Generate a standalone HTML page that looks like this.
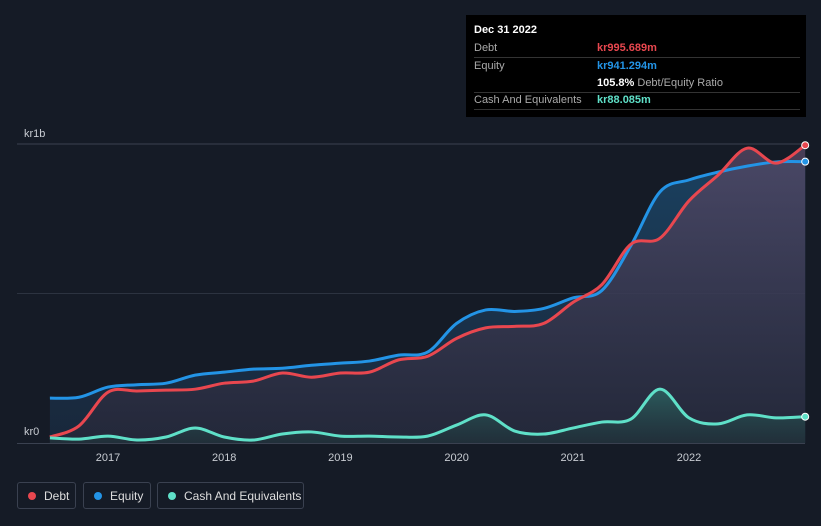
<!DOCTYPE html>
<html><head><meta charset="utf-8"><style>
html,body{margin:0;padding:0;background:#151b26;width:821px;height:526px;overflow:hidden;font-family:"Liberation Sans",sans-serif}
#wrap{position:relative;width:821px;height:526px}
svg{position:absolute;left:0;top:0}
.tt{position:absolute;left:466px;top:15px;width:340px;height:102px;background:#000;color:#fff;font-size:11px}
.row{position:absolute;left:8px;right:6px;height:17px;border-bottom:1px solid #333;line-height:17px}
.row span.l{color:#aaa;position:absolute;left:0}
.row span.v{position:absolute;left:123px;font-weight:bold}
.leg{position:absolute;top:482px;height:27px;border:1px solid #3a4150;border-radius:3px;color:#ddd;font-size:12px;line-height:27px;box-sizing:border-box}
.dot{display:inline-block;width:8px;height:8px;border-radius:4px;margin:0 8px 0 10px}
</style></head><body><div id="wrap">
<svg id="c" width="821" height="526"></svg>
<div class="tt">
<div style="position:absolute;left:8px;top:9px;font-weight:bold;font-size:11px">Dec 31 2022</div>
<div class="row" style="top:25px"><span class="l">Debt</span><span class="v" style="color:#e8474f">kr995.689m</span></div>
<div class="row" style="top:43px;border:none"><span class="l">Equity</span><span class="v" style="color:#2394e6">kr941.294m</span></div>
<div class="row" style="top:60px"><span class="v" style="color:#fff">105.8% <span style="color:#aaa;font-weight:normal">Debt/Equity Ratio</span></span></div>
<div class="row" style="top:77px"><span class="l">Cash And Equivalents</span><span class="v" style="color:#5fe0c8">kr88.085m</span></div>
</div>
<div class="leg" style="left:17px;width:59px"><span class="dot" style="background:#e8474f"></span>Debt</div>
<div class="leg" style="left:83px;width:68px"><span class="dot" style="background:#2394e6"></span>Equity</div>
<div class="leg" style="left:157px;width:147px"><span class="dot" style="background:#5fe0c8"></span>Cash And Equivalents</div>
</div>
<script>
const times=[2016.5,2016.75,2017,2017.25,2017.5,2017.75,2018,2018.25,2018.5,2018.75,2019,2019.25,2019.5,2019.75,2020,2020.25,2020.5,2020.75,2021,2021.25,2021.5,2021.75,2022,2022.25,2022.5,2022.75,2023];
const equity=[0.15,0.153,0.187,0.195,0.2,0.227,0.237,0.247,0.25,0.26,0.267,0.274,0.294,0.304,0.4,0.445,0.44,0.45,0.485,0.51,0.66,0.84,0.88,0.906,0.926,0.94,0.941];
const debt=[0.02,0.057,0.17,0.174,0.177,0.18,0.2,0.207,0.234,0.22,0.234,0.237,0.278,0.29,0.35,0.385,0.39,0.4,0.47,0.53,0.665,0.685,0.81,0.896,0.986,0.936,0.996];
const cash=[0.017,0.013,0.023,0.01,0.02,0.05,0.02,0.01,0.03,0.037,0.023,0.023,0.02,0.023,0.06,0.094,0.04,0.03,0.05,0.07,0.08,0.18,0.084,0.064,0.094,0.084,0.088];
const yearTicks=[2017,2018,2019,2020,2021,2022];
const yTicks=[{v:0,l:"kr0"},{v:1,l:"kr1b"}];
const NS="http://www.w3.org/2000/svg",svg=document.getElementById('c');
const X=t=>108+(t-2017)*116.2, Y=v=>443-v*299;
function mk(tag,attrs,name){const e=document.createElementNS(NS,tag);for(const k in attrs)e.setAttribute(k,attrs[k]);


svg.appendChild(e);return e;}
const defs=document.createElementNS(NS,'defs');defs.innerHTML=
'<linearGradient id="ge" x1="0" y1="0" x2="0" y2="1"><stop offset="0" stop-color="#1c4a6e" stop-opacity="0.8"/><stop offset="1" stop-color="#1c3450" stop-opacity="0.5"/></linearGradient>'+
'<linearGradient id="gd" x1="0" y1="0" x2="0" y2="1"><stop offset="0" stop-color="#5a4a68" stop-opacity="0.75"/><stop offset="1" stop-color="#2a2838" stop-opacity="0.6"/></linearGradient>'+
'<linearGradient id="gc" x1="0" y1="0" x2="0" y2="1"><stop offset="0" stop-color="#2e7a70" stop-opacity="0.6"/><stop offset="1" stop-color="#1d3a3a" stop-opacity="0.4"/></linearGradient>';
svg.appendChild(defs);
function path(vals){const p=vals.map((v,i)=>[X(times[i]),Y(v)]);let d='M'+p[0][0]+','+p[0][1];
for(let i=0;i<p.length-1;i++){const p0=p[Math.max(0,i-1)],p1=p[i],p2=p[i+1],p3=p[Math.min(p.length-1,i+2)];
d+=' C'+(p1[0]+(p2[0]-p0[0])/6)+','+(p1[1]+(p2[1]-p0[1])/6)+' '+(p2[0]-(p3[0]-p1[0])/6)+','+(p2[1]-(p3[1]-p1[1])/6)+' '+p2[0]+','+p2[1];}return d;}
mk('line',{x1:17,x2:805,y1:Y(1),y2:Y(1),stroke:'#3a4150'},'gridline-top');
mk('line',{x1:17,x2:805,y1:Y(0.5),y2:Y(0.5),stroke:'#2c3340'},'gridline-mid');
mk('line',{x1:17,x2:805,y1:Y(0)+0.5,y2:Y(0)+0.5,stroke:'#3a4150'},'gridline-zero');
const x0=X(times[0]),x1=X(times[times.length-1]),yb=Y(0);
mk('path',{d:path(equity)+' L'+x1+','+yb+' L'+x0+','+yb+'Z',fill:'url(#ge)'},'equity-area');
mk('path',{d:path(debt)+' L'+x1+','+yb+' L'+x0+','+yb+'Z',fill:'url(#gd)'},'debt-area');
mk('path',{d:path(cash)+' L'+x1+','+yb+' L'+x0+','+yb+'Z',fill:'url(#gc)'},'cash-area');
mk('path',{d:path(equity),fill:'none',stroke:'#2394e6','stroke-width':3},'equity-line');
mk('path',{d:path(debt),fill:'none',stroke:'#e8474f','stroke-width':3},'debt-line');
mk('path',{d:path(cash),fill:'none',stroke:'#5fe0c8','stroke-width':3},'cash-line');
const L=times.length-1;
mk('circle',{cx:x1,cy:Y(debt[L]),r:3.5,fill:'#e8474f',stroke:'#fff','stroke-width':1},'debt-end-dot');
mk('circle',{cx:x1,cy:Y(equity[L]),r:3.5,fill:'#2394e6',stroke:'#fff','stroke-width':1},'equity-end-dot');
mk('circle',{cx:x1,cy:Y(cash[L]),r:3.5,fill:'#5fe0c8',stroke:'#fff','stroke-width':1},'cash-end-dot');
yearTicks.forEach(t=>{const e=mk('text',{x:X(t),y:461,fill:'#c8ccd2','font-size':11,'text-anchor':'middle','font-family':'Liberation Sans'},'x-tick-label');e.textContent=t;});
yTicks.forEach(o=>{const e=mk('text',{x:24,y:Y(o.v)-7+(o.v===0?-1:0),fill:'#c8ccd2','font-size':11,'font-family':'Liberation Sans'},'y-tick-label');e.textContent=o.l;});
</script></body></html>
